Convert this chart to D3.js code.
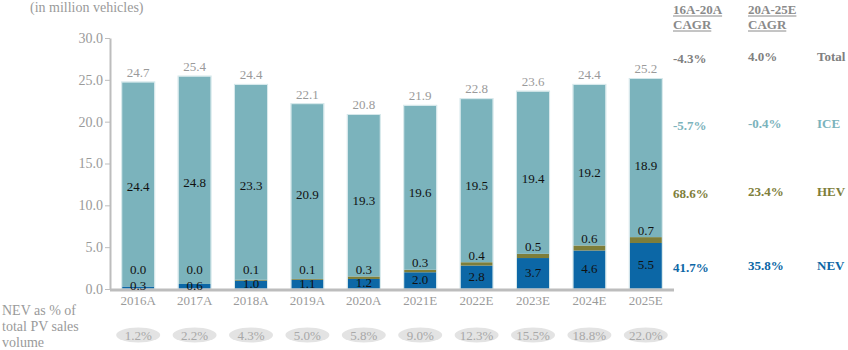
<!DOCTYPE html>
<html>
<head>
<meta charset="utf-8">
<script src="https://cdn.jsdelivr.net/npm/d3@7"></script>
<style>
  body { margin: 0; background: #fff; }
  svg text { font-family: "Liberation Serif", "DejaVu Serif", serif; }
</style>
</head>
<body>
<div id="chart"></div>
<script>
// chart data
var years = ["2016A", "2017A", "2018A", "2019A", "2020A", "2021E", "2022E", "2023E", "2024E", "2025E"];
var nev = [0.3, 0.6, 1.0, 1.1, 1.2, 2.0, 2.8, 3.7, 4.6, 5.5];
var hev = [0.0, 0.0, 0.1, 0.1, 0.3, 0.3, 0.4, 0.5, 0.6, 0.7];
var ice = [24.4, 24.8, 23.3, 20.9, 19.3, 19.6, 19.5, 19.4, 19.2, 18.9];
var totals = [24.7, 25.4, 24.4, 22.1, 20.8, 21.9, 22.8, 23.6, 24.4, 25.2];
var nevShare = ["1.2%", "2.2%", "4.3%", "5.0%", "5.8%", "9.0%", "12.3%", "15.5%", "18.8%", "22.0%"];
var yTicks = [0, 5, 10, 15, 20, 25, 30];

// CAGR table
var cagrSeries = ["Total", "ICE", "HEV", "NEV"];
var cagr1620 = ["-4.3%", "-5.7%", "68.6%", "41.7%"];
var cagr2025 = ["4.0%", "-0.4%", "23.4%", "35.8%"];
var cagrHeaders = [["16A-20A", "CAGR"], ["20A-25E", "CAGR"]];

var COLORS = { NEV: "#0c67a6", HEV: "#7e7e3a", ICE: "#7bb3bc", Total: "#808080" };
var GREY = "#9a9a9a";
var FONT = "Liberation Serif, DejaVu Serif, serif";

var width = 848, height = 350;
var svg = d3.select("#chart").append("svg")
    .attr("width", width)
    .attr("height", height)
    .attr("font-family", FONT);

var x = d3.scaleBand().domain(years).range([110, 674]).paddingInner(0.43).paddingOuter(0.215);
var y = d3.scaleLinear().domain([0, 30]).range([289, 38]);

// unit note
svg.append("text")
    .attr("x", 30).attr("y", 12)
    .attr("font-size", 14).attr("fill", GREY)
    .text("(in million vehicles)");

// y axis
var yAxis = svg.append("g")
    .attr("transform", "translate(110,0)")
    .call(d3.axisLeft(y).tickValues(yTicks).tickFormat(d3.format(".1f")).tickSize(5).tickSizeOuter(0))
    .attr("font-family", FONT);
yAxis.select(".domain").attr("stroke", "#bdbdbd").attr("stroke-width", 2);
yAxis.selectAll(".tick line").attr("stroke", "#bdbdbd");
yAxis.selectAll(".tick text")
    .attr("fill", GREY).attr("font-size", 14)
    .attr("x", -7);

// stacked bars
var rows = years.map(function (yr, i) {
    return { year: yr, NEV: nev[i], HEV: hev[i], ICE: ice[i] };
});
var stack = d3.stack().keys(["NEV", "HEV", "ICE"])(rows);

svg.append("g").selectAll("g")
    .data(stack)
    .join("g")
    .attr("fill", function (s) { return COLORS[s.key]; })
    .selectAll("rect")
    .data(function (s) { return s; })
    .join("rect")
    .attr("x", function (d) { return x(d.data.year); })
    .attr("width", x.bandwidth())
    .attr("y", function (d) { return y(d[1]); })
    .attr("height", function (d) { return y(d[0]) - y(d[1]); });

// light outline around each bar
svg.append("g").selectAll("rect")
    .data(rows)
    .join("rect")
    .attr("x", function (d) { return x(d.year) - 0.5; })
    .attr("width", x.bandwidth() + 1)
    .attr("y", function (d) { return y(d.NEV + d.HEV + d.ICE) - 0.5; })
    .attr("height", function (d) { return y(0) - y(d.NEV + d.HEV + d.ICE) + 0.5; })
    .attr("fill", "none")
    .attr("stroke", "#d4e7ea")
    .attr("stroke-width", 1);

// baseline
svg.append("line")
    .attr("x1", 110).attr("x2", 674)
    .attr("y1", y(0) + 1).attr("y2", y(0) + 1)
    .attr("stroke", "#bdbdbd").attr("stroke-width", 3);

var labels = svg.append("g")
    .attr("font-size", 13)
    .attr("text-anchor", "middle")
    .attr("dominant-baseline", "central");

// NEV labels, centred in the segment
labels.append("g").selectAll("text")
    .data(rows)
    .join("text")
    .attr("x", function (d) { return x(d.year) + x.bandwidth() / 2; })
    .attr("y", function (d) { return Math.min(y(d.NEV / 2) - 1, y(0) - 4); })
    .attr("fill", "#111")
    .text(function (d) { return d.NEV.toFixed(1); });

// HEV labels, just above the thin segment (kept clear of the NEV label)
labels.append("g").selectAll("text")
    .data(rows)
    .join("text")
    .attr("x", function (d) { return x(d.year) + x.bandwidth() / 2; })
    .attr("y", function (d) { return Math.min(y(d.NEV + d.HEV) - 7, y(0) - 20); })
    .attr("fill", "#111")
    .text(function (d) { return d.HEV.toFixed(1); });

// ICE labels
labels.append("g").selectAll("text")
    .data(rows)
    .join("text")
    .attr("x", function (d) { return x(d.year) + x.bandwidth() / 2; })
    .attr("y", function (d) { return y(d.NEV + d.ICE / 2) + 2; })
    .attr("fill", "#111")
    .text(function (d) { return d.ICE.toFixed(1); });

// totals above the bars
labels.append("g").selectAll("text")
    .data(rows)
    .join("text")
    .attr("x", function (d) { return x(d.year) + x.bandwidth() / 2; })
    .attr("y", function (d, i) { return y(totals[i]) - 10; })
    .attr("fill", GREY)
    .text(function (d, i) { return totals[i].toFixed(1); });

// x labels
svg.append("g").selectAll("text")
    .data(years)
    .join("text")
    .attr("x", function (d) { return x(d) + x.bandwidth() / 2; })
    .attr("y", 305)
    .attr("text-anchor", "middle")
    .attr("font-size", 13)
    .attr("fill", GREY)
    .text(function (d) { return d; });

// NEV share row
svg.append("text")
    .attr("font-size", 14).attr("fill", GREY)
    .selectAll("tspan")
    .data(["NEV as % of", "total PV sales", "volume"])
    .join("tspan")
    .attr("x", 2)
    .attr("y", function (d, i) { return 315 + i * 16; })
    .text(function (d) { return d; });

var share = svg.append("g").selectAll("g")
    .data(years)
    .join("g")
    .attr("transform", function (d) { return "translate(" + (x(d) + x.bandwidth() / 2) + ",335)"; });
share.append("ellipse")
    .attr("rx", 22).attr("ry", 7.5)
    .attr("fill", "#e3e3e3");
share.append("text")
    .attr("text-anchor", "middle")
    .attr("dominant-baseline", "central")
    .attr("font-size", 13)
    .attr("fill", "#a8a8a8")
    .text(function (d, i) { return nevShare[i]; });

// CAGR table
var table = svg.append("g")
    .attr("font-size", 13)
    .attr("font-weight", "bold");

var colX = [673, 748];
cagrHeaders.forEach(function (lines, c) {
    lines.forEach(function (txt, j) {
        var t = table.append("text")
            .attr("x", colX[c])
            .attr("y", 14 + j * 15)
            .attr("fill", "#8a8a8a")
            .text(txt);
        var len = t.node().getComputedTextLength();
        table.append("line")
            .attr("x1", colX[c]).attr("x2", colX[c] + len)
            .attr("y1", 14 + j * 15 + 2).attr("y2", 14 + j * 15 + 2)
            .attr("stroke", "#8a8a8a").attr("stroke-width", 1);
    });
});

var rowY = [63, 130, 198, 272];
cagrSeries.forEach(function (s, i) {
    table.append("text").attr("x", colX[0]).attr("y", rowY[i])
        .attr("fill", COLORS[s]).text(cagr1620[i]);
    table.append("text").attr("x", colX[1]).attr("y", rowY[i] - 2)
        .attr("fill", COLORS[s]).text(cagr2025[i]);
    table.append("text").attr("x", 817).attr("y", rowY[i] - 2)
        .attr("fill", COLORS[s]).text(s);
});
</script>
</body>
</html>
